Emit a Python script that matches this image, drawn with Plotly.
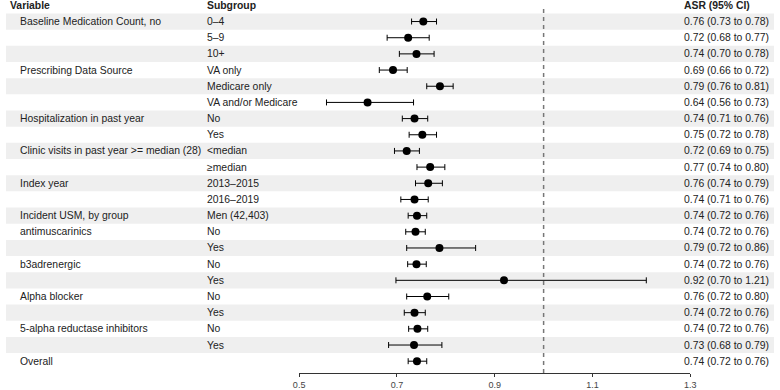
import plotly.graph_objects as go

variables = ["Baseline Medication Count, no", "", "", "Prescribing Data Source", "", "",
             "Hospitalization in past year", "", "Clinic visits in past year >= median (28)", "",
             "Index year", "", "Incident USM, by group", "antimuscarinics", "", "b3adrenergic", "",
             "Alpha blocker", "", "5-alpha reductase inhibitors", "", "Overall"]
subgroups = ["0–4", "5–9", "10+", "VA only", "Medicare only", "VA and/or Medicare",
             "No", "Yes", "<median", "≥median", "2013–2015", "2016–2019", "Men (42,403)",
             "No", "Yes", "No", "Yes", "No", "Yes", "No", "Yes", ""]
estimate = [0.754, 0.723, 0.740, 0.692, 0.788, 0.640, 0.736, 0.752, 0.720, 0.768, 0.764,
            0.736, 0.741, 0.738, 0.787, 0.740, 0.919, 0.762, 0.736, 0.742, 0.735, 0.741]
lower = [0.730, 0.680, 0.705, 0.664, 0.761, 0.556, 0.711, 0.725, 0.695, 0.741, 0.738,
         0.708, 0.723, 0.718, 0.720, 0.722, 0.698, 0.720, 0.715, 0.724, 0.683, 0.723]
upper = [0.781, 0.766, 0.776, 0.721, 0.815, 0.734, 0.763, 0.781, 0.746, 0.798, 0.793,
         0.764, 0.761, 0.758, 0.861, 0.760, 1.210, 0.806, 0.758, 0.763, 0.792, 0.761]
ci_text = ["0.76 (0.73 to 0.78)", "0.72 (0.68 to 0.77)", "0.74 (0.70 to 0.78)",
           "0.69 (0.66 to 0.72)", "0.79 (0.76 to 0.81)", "0.64 (0.56 to 0.73)",
           "0.74 (0.71 to 0.76)", "0.75 (0.72 to 0.78)", "0.72 (0.69 to 0.75)",
           "0.77 (0.74 to 0.80)", "0.76 (0.74 to 0.79)", "0.74 (0.71 to 0.76)",
           "0.74 (0.72 to 0.76)", "0.74 (0.72 to 0.76)", "0.79 (0.72 to 0.86)",
           "0.74 (0.72 to 0.76)", "0.92 (0.70 to 1.21)", "0.76 (0.72 to 0.80)",
           "0.74 (0.72 to 0.76)", "0.74 (0.72 to 0.76)", "0.73 (0.68 to 0.79)",
           "0.74 (0.72 to 0.76)"]
x_ticks = [0.5, 0.7, 0.9, 1.1, 1.3]
ref_value = 1.0

rows = list(range(1, len(estimate) + 1))
W, H = 780, 390

fig = go.Figure()
fig.add_trace(go.Scatter(
    x=estimate, y=rows, mode="markers",
    marker=dict(color="black", size=8),
    error_x=dict(type="data", symmetric=False,
                 array=[u - e for u, e in zip(upper, estimate)],
                 arrayminus=[e - l for e, l in zip(estimate, lower)],
                 color="black", thickness=1, width=3),
    showlegend=False, hoverinfo="skip", cliponaxis=False))

shapes = []
for r in rows:
    if r % 2 == 1:
        shapes.append(dict(type="rect", xref="paper", yref="y", x0=0, x1=1,
                           y0=r - 0.5, y1=r + 0.5, fillcolor="#efefef",
                           line=dict(width=0), layer="below"))
shapes.append(dict(type="line", xref="x", yref="y", x0=ref_value, x1=ref_value,
                   y0=0.22, y1=22.73, line=dict(color="#777777", width=1.5, dash="4px,4px")))

font = "Liberation Sans, Arial, sans-serif"
ann = []
col_var, col_sub, col_ci = 12 / W, 202.5 / W, 686.5 / W
ann.append(dict(x=2 / W, y=0, text="<b>Variable</b>"))
ann.append(dict(x=col_sub, y=0, text="<b>Subgroup</b>"))
ann.append(dict(x=col_ci, y=0, text="<b>ASR (95% CI)</b>"))
for r, v, s, c in zip(rows, variables, subgroups, ci_text):
    if v:
        ann.append(dict(x=col_var, y=r, text=v))
    if s:
        ann.append(dict(x=col_sub, y=r, text=s))
    ann.append(dict(x=col_ci, y=r, text=c))
for a in ann:
    a.update(xref="paper", yref="y", xanchor="left", yanchor="middle", showarrow=False,
             font=dict(family=font, size=10.4, color="#222222"))

fig.update_layout(
    width=W, height=H, margin=dict(l=0, r=0, t=0, b=14.3),
    plot_bgcolor="white", paper_bgcolor="white",
    shapes=shapes, annotations=ann,
    xaxis=dict(domain=[297.7 / W, 695 / W], range=[0.5, 1.3], tickvals=x_ticks,
               ticktext=[str(t) for t in x_ticks], showgrid=False, zeroline=False,
               showline=True, linecolor="#333333", linewidth=1, ticks="outside",
               ticklen=3, tickcolor="#333333",
               tickfont=dict(family=font, size=9, color="#444444")),
    yaxis=dict(range=[22.73, -0.332], showgrid=False, zeroline=False,
               showticklabels=False, showline=False, fixedrange=True),
)
fig.write_html("out.html")
